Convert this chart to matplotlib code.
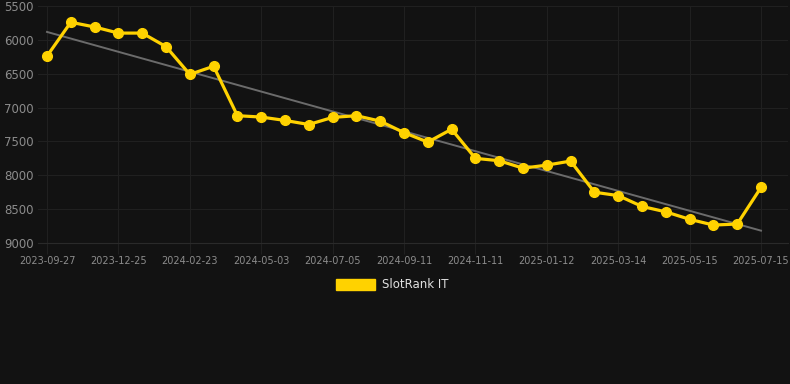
import numpy as np
import matplotlib
matplotlib.use("Agg")
import matplotlib.pyplot as plt

# ranks per snapshot, x axis is categorical, only every 3rd date is labelled
tick_labels = ['2023-09-27', '2023-12-25', '2024-02-23', '2024-05-03', '2024-07-05', '2024-09-11',
               '2024-11-11', '2025-01-12', '2025-03-14', '2025-05-15', '2025-07-15']
rank = [6240, 5740, 5810, 5900, 5900, 6100, 6510, 6390, 7120, 7140,
        7190, 7250, 7145, 7120, 7200, 7370, 7510, 7320, 7750, 7785,
        7895, 7850, 7790, 8250, 8300, 8460, 8540, 8650, 8735, 8720,
        8180]
series_name = 'SlotRank IT'

bg = '#121212'
gold = '#FFD200'

x = np.arange(len(rank))
coef = np.polyfit(x, rank, 1)
trend = np.polyval(coef, x)

fig = plt.figure(figsize=(7.9, 3.84), dpi=100, facecolor=bg)
ax = fig.add_axes([38/790, 1 - 243/384, (788-38)/790, (243-6)/384])
ax.set_facecolor(bg)

ax.plot(x, trend, color='#6b6b6b', lw=1.4, zorder=2)
ax.plot(x, rank, color=gold, lw=2.3, marker='o', markersize=7, zorder=3)

ax.set_ylim(9000, 5500)
ax.set_yticks([5500, 6000, 6500, 7000, 7500, 8000, 8500, 9000])
ax.set_xlim(-9/23.8, 30 + 27/23.8)
ax.set_xticks(x[::3])
ax.set_xticklabels(tick_labels)

ax.grid(True, color='#202020', lw=0.8)
ax.set_axisbelow(True)
for s in ['top', 'right', 'left']:
    ax.spines[s].set_visible(False)
ax.spines['bottom'].set_color('#2a2a2a')
ax.tick_params(axis='y', length=0, colors='#8c8c8c', labelsize=8.5, pad=3)
ax.tick_params(axis='x', length=8, color='#202020', colors='#8c8c8c', labelsize=7, pad=1)

# legend below the plot
fig.patches.append(plt.Rectangle((336/790, 1 - 290/384), 39/790, 11/384,
                                 transform=fig.transFigure, color=gold))
fig.text(382/790, 1 - 285/384, series_name, color='#e0e0e0', fontsize=8.5, va='center')

fig.savefig('out.png', dpi=100, facecolor=bg)
